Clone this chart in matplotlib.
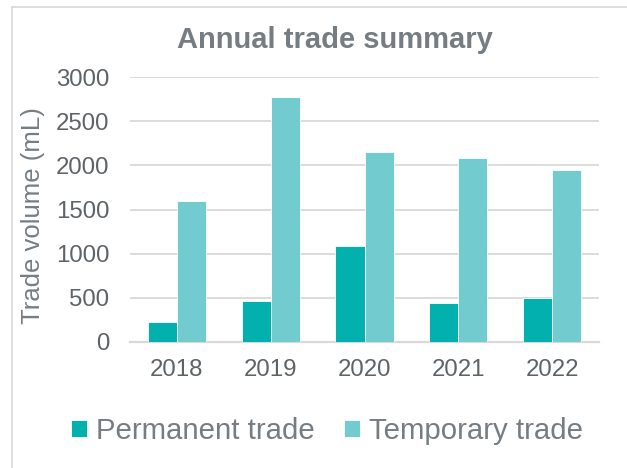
import numpy as np
import matplotlib
matplotlib.use("Agg")
import matplotlib.pyplot as plt
from matplotlib.lines import Line2D

plt.rcParams["font.family"] = ["Liberation Sans", "DejaVu Sans"]

years = ["2018", "2019", "2020", "2021", "2022"]
permanent = [225, 465, 1090, 440, 500]
temporary = [1600, 2770, 2150, 2080, 1945]

dark_teal = "#02B1AE"
light_teal = "#71CBCF"
tick_color = "#5E6367"
text_color = "#767D82"
grid_color = "#D9D9D9"

W, H = 627, 468
fig = plt.figure(figsize=(W / 100, H / 100), dpi=100)
ax = fig.add_axes([130 / W, 1 - 342 / H, (599 - 130) / W, (342 - 77) / H])

x = np.arange(len(years))
w = 0.31
ax.bar(x - w / 2, permanent, w, color=dark_teal, edgecolor="white", linewidth=0.6,
       label="Permanent trade", zorder=3)
ax.bar(x + w / 2, temporary, w, color=light_teal, edgecolor="white", linewidth=0.6,
       label="Temporary trade", zorder=3)

ax.set_xlim(-0.5, len(years) - 0.5)
ax.set_ylim(0, 3000)
ax.set_yticks(np.arange(0, 3001, 500))
ax.set_xticks(x)
ax.set_xticklabels(years)

ax.yaxis.grid(True, color=grid_color, linewidth=1.3, zorder=0)
for s in ["top", "right", "left"]:
    ax.spines[s].set_visible(False)
ax.spines["bottom"].set_color(grid_color)
ax.spines["bottom"].set_linewidth(1.6)
ax.tick_params(axis="both", length=0, labelsize=17.3, labelcolor=tick_color)
ax.tick_params(axis="y", pad=15)
ax.tick_params(axis="x", pad=12)

fig.text(33 / W, 1 - 216 / H, "Trade volume (mL)", rotation=90, fontsize=18.5,
         color=text_color, ha="center", va="center")
fig.text(335 / W, 1 - 40 / H, "Annual trade summary", fontsize=21, fontweight="bold",
         color=text_color, ha="center", va="center")

fig.legend(loc="center", bbox_to_anchor=(327 / W, 1 - 431 / H), ncol=2, frameon=False,
           fontsize=21.2, labelcolor=text_color, handlelength=0.55, handleheight=0.55,
           handletextpad=0.3, columnspacing=1.0, borderaxespad=0)

# chart frame (left and top edges visible)
fig.add_artist(Line2D([12 / W, 12 / W], [0, 1 - 7 / H], color="#D9D9D9", linewidth=1.2))
fig.add_artist(Line2D([12 / W, 1], [1 - 7 / H, 1 - 7 / H], color="#D9D9D9", linewidth=1.2))

fig.savefig("out.png", dpi=100)
